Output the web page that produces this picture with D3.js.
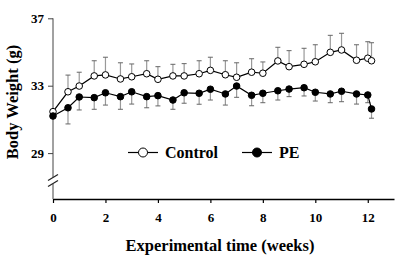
<!DOCTYPE html>
<html>
<head>
<meta charset="utf-8">
<script src="https://cdn.jsdelivr.net/npm/d3@7"></script>
<style>
  html, body { margin: 0; padding: 0; background: #fff; }
</style>
</head>
<body>
<svg id="chart" width="399" height="256"></svg>
<script>
'use strict';

var FONT = "'Liberation Serif', 'Times New Roman', serif";

// measurement days (converted to weeks for the x axis)
var days = [0, 4, 7, 11, 14, 18, 21, 25, 28, 32, 35, 39, 42, 46, 49, 53, 56, 60, 63, 67, 70, 74, 77, 81, 84, 85];

var controlMean = [31.46, 32.64, 32.98, 33.58, 33.64, 33.40, 33.53, 33.71, 33.38, 33.58, 33.58, 33.71, 33.91,
                   33.65, 33.50, 33.80, 33.74, 34.47, 34.13, 34.27, 34.42, 34.98, 35.12, 34.51, 34.63, 34.48];
var controlErr  = [0.05, 0.99, 0.82, 0.90, 1.05, 0.96, 0.76, 0.77, 0.75, 0.69, 0.73, 0.77, 0.78,
                   0.83, 0.86, 0.80, 0.67, 0.81, 0.95, 0.95, 1.01, 1.01, 0.99, 0.92, 0.98, 1.07];

var peMean = [31.20, 31.69, 32.33, 32.29, 32.58, 32.35, 32.64, 32.35, 32.41, 32.15, 32.58, 32.55, 32.79,
              32.51, 32.98, 32.43, 32.55, 32.70, 32.80, 32.88, 32.61, 32.51, 32.67, 32.51, 32.45, 31.62];
var peErr  = [0.05, 0.96, 0.77, 0.69, 0.73, 0.75, 0.73, 0.66, 0.61, 0.55, 0.62, 0.65, 0.64,
              0.66, 0.67, 0.62, 0.56, 0.55, 0.45, 0.49, 0.52, 0.52, 0.62, 0.60, 0.46, 0.55];

var xTicks = [0, 2, 4, 6, 8, 10, 12];
var yTicks = [29, 33, 37];

var svg = d3.select("#chart"),
    x = d3.scaleLinear().domain([0, 13]).range([53, 394]),
    y = d3.scaleLinear().domain([29, 37]).range([153.1, 18.3]),
    axisY0 = 199;

// x axis
svg.append("g")
    .attr("transform", "translate(0," + axisY0 + ")")
    .attr("font-family", FONT)
    .call(d3.axisBottom(x).tickValues(xTicks).tickSize(4).tickPadding(10).tickSizeOuter(0))
    .call(function(g){
        g.attr("font-family", FONT).attr("font-weight", "bold");
        g.select(".domain").attr("stroke-width", 1.3);
        g.selectAll(".tick line").attr("stroke-width", 1.2);
        g.selectAll("text").attr("font-size", 13).attr("fill", "#000");
    });

// y axis (domain drawn by hand because of the break)
var yAxis = svg.append("g")
    .attr("transform", "translate(53,0)")
    .call(d3.axisLeft(y).tickValues(yTicks).tickSize(5).tickPadding(4))
    .call(function(g){
        g.attr("font-family", FONT).attr("font-weight", "bold");
        g.select(".domain").remove();
        g.selectAll(".tick line").attr("stroke", "#444");
        g.selectAll("text").attr("font-size", 13).attr("fill", "#000");
    });

yAxis.append("line").attr("x1", 0).attr("x2", 0)
    .attr("y1", y(37)).attr("y2", 177).attr("stroke", "#444");
yAxis.append("line").attr("x1", 0).attr("x2", 0)
    .attr("y1", 184).attr("y2", axisY0).attr("stroke", "#444");
[177.5, 183.5].forEach(function(cy){
    yAxis.append("line")
        .attr("x1", -5).attr("y1", cy + 3)
        .attr("x2", 5).attr("y2", cy - 3)
        .attr("stroke", "#222").attr("stroke-width", 1.2);
});

// axis titles
svg.append("text")
    .attr("x", 220).attr("y", 251)
    .attr("text-anchor", "middle")
    .attr("font-family", FONT).attr("font-weight", "bold")
    .attr("font-size", 16.5)
    .text("Experimental time (weeks)");

svg.append("text")
    .attr("transform", "translate(18,102) rotate(-90)")
    .attr("text-anchor", "middle")
    .attr("font-family", FONT).attr("font-weight", "bold")
    .attr("font-size", 16.5)
    .text("Body Weight (g)");

function series(mean, err, dir, fill) {
    var pts = days.map(function(d, i){
        return { w: d / 7, m: mean[i], e: err[i] };
    });
    var g = svg.append("g");

    // error bars: control goes up, PE goes down
    var eb = g.selectAll(".eb").data(pts).enter().append("g");
    eb.append("line")
        .attr("x1", function(d){ return x(d.w); })
        .attr("x2", function(d){ return x(d.w); })
        .attr("y1", function(d){ return y(d.m); })
        .attr("y2", function(d){ return y(d.m + dir * d.e); })
        .attr("stroke", "#999").attr("stroke-width", 1.2);
    eb.append("line")
        .attr("x1", function(d){ return x(d.w) - 2.5; })
        .attr("x2", function(d){ return x(d.w) + 2.5; })
        .attr("y1", function(d){ return y(d.m + dir * d.e); })
        .attr("y2", function(d){ return y(d.m + dir * d.e); })
        .attr("stroke", "#666").attr("stroke-width", 1);

    var line = d3.line()
        .x(function(d){ return x(d.w); })
        .y(function(d){ return y(d.m); });

    g.append("path").datum(pts)
        .attr("d", line)
        .attr("fill", "none")
        .attr("stroke", "#000")
        .attr("stroke-width", 1.2);

    g.selectAll("circle").data(pts).enter().append("circle")
        .attr("cx", function(d){ return x(d.w); })
        .attr("cy", function(d){ return y(d.m); })
        .attr("r", 3.3)
        .attr("fill", fill)
        .attr("stroke", "#000")
        .attr("stroke-width", 1);
}

series(controlMean, controlErr, 1, "#fff");
series(peMean, peErr, -1, "#000");

// legend
var legend = [
    { name: "Control", fill: "#fff", x: 128 },
    { name: "PE", fill: "#000", x: 242 }
];
var lg = svg.selectAll(".legend").data(legend).enter().append("g")
    .attr("transform", function(d){ return "translate(" + d.x + ",152.5)"; });
lg.append("line").attr("x1", 0).attr("x2", 30)
    .attr("stroke", "#000").attr("stroke-width", 1.2);
lg.append("circle").attr("cx", 15).attr("r", 4.5)
    .attr("fill", function(d){ return d.fill; })
    .attr("stroke", "#000");
lg.append("text")
    .attr("x", 37).attr("y", 5.5)
    .attr("font-family", FONT).attr("font-weight", "bold")
    .attr("font-size", 16)
    .text(function(d){ return d.name; });
</script>
</body>
</html>
